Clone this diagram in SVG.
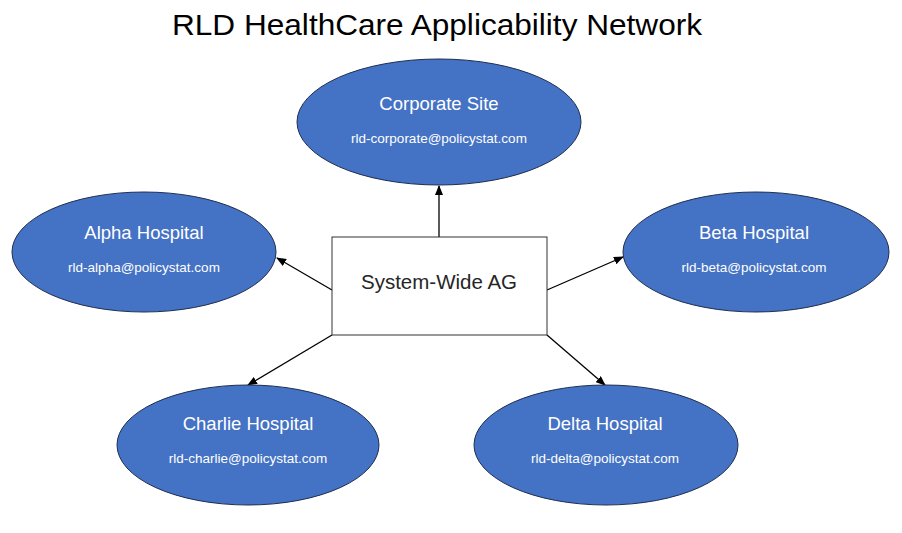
<svg xmlns="http://www.w3.org/2000/svg" width="902" height="533" viewBox="0 0 902 533">
<defs>
<marker id="ah" markerWidth="10" markerHeight="8" refX="9" refY="4" orient="auto" markerUnits="userSpaceOnUse">
<path d="M0,0 L10,4 L0,8 z" fill="#000"/>
</marker>
<style>
.ell{fill:#4472C4;stroke:#1F2F4F;stroke-width:1}
.t{font-family:"Liberation Sans",Arial,sans-serif;fill:#fff;text-anchor:middle}
.h{font-size:18.5px}
.e{font-size:13.5px}
.c{stroke:#000;stroke-width:1.3;fill:none;marker-end:url(#ah)}
</style>
</defs>
<rect width="902" height="533" fill="#fff"/>
<text x="437" y="35" font-family="Liberation Sans,Arial,sans-serif" font-size="30" text-anchor="middle" fill="#000" textLength="530" lengthAdjust="spacingAndGlyphs">RLD HealthCare Applicability Network</text>
<g id="connectors">
<line class="c" x1="439" y1="241" x2="439" y2="186"/>
<line class="c" x1="332" y1="290" x2="277" y2="258"/>
<line class="c" x1="547" y1="290" x2="623" y2="257"/>
<line class="c" x1="332" y1="335" x2="248" y2="385"/>
<line class="c" x1="547" y1="335" x2="605" y2="385"/>
</g>
<g id="system">
<rect x="332" y="237" width="215" height="98" fill="#fff" stroke="#333" stroke-width="1"/>
<text x="439" y="289" font-family="Liberation Sans,Arial,sans-serif" font-size="20.5" text-anchor="middle" fill="#262626">System-Wide AG</text>
</g>
<g id="corporate">
<ellipse class="ell" cx="439" cy="122" rx="142" ry="63"/>
<text class="t h" x="439" y="110">Corporate Site</text>
<text class="t e" x="439" y="143">rld-corporate@policystat.com</text>
</g>
<g id="alpha">
<ellipse class="ell" cx="144" cy="252" rx="132" ry="60"/>
<text class="t h" x="144" y="239">Alpha Hospital</text>
<text class="t e" x="144" y="272">rld-alpha@policystat.com</text>
</g>
<g id="beta">
<ellipse class="ell" cx="756" cy="252" rx="133" ry="60"/>
<text class="t h" x="754" y="239">Beta Hospital</text>
<text class="t e" x="754" y="272">rld-beta@policystat.com</text>
</g>
<g id="charlie">
<ellipse class="ell" cx="248" cy="445" rx="131" ry="60"/>
<text class="t h" x="248" y="430">Charlie Hospital</text>
<text class="t e" x="248" y="463">rld-charlie@policystat.com</text>
</g>
<g id="delta">
<ellipse class="ell" cx="606" cy="445" rx="132" ry="60"/>
<text class="t h" x="605" y="430">Delta Hospital</text>
<text class="t e" x="605" y="463">rld-delta@policystat.com</text>
</g>
</svg>
